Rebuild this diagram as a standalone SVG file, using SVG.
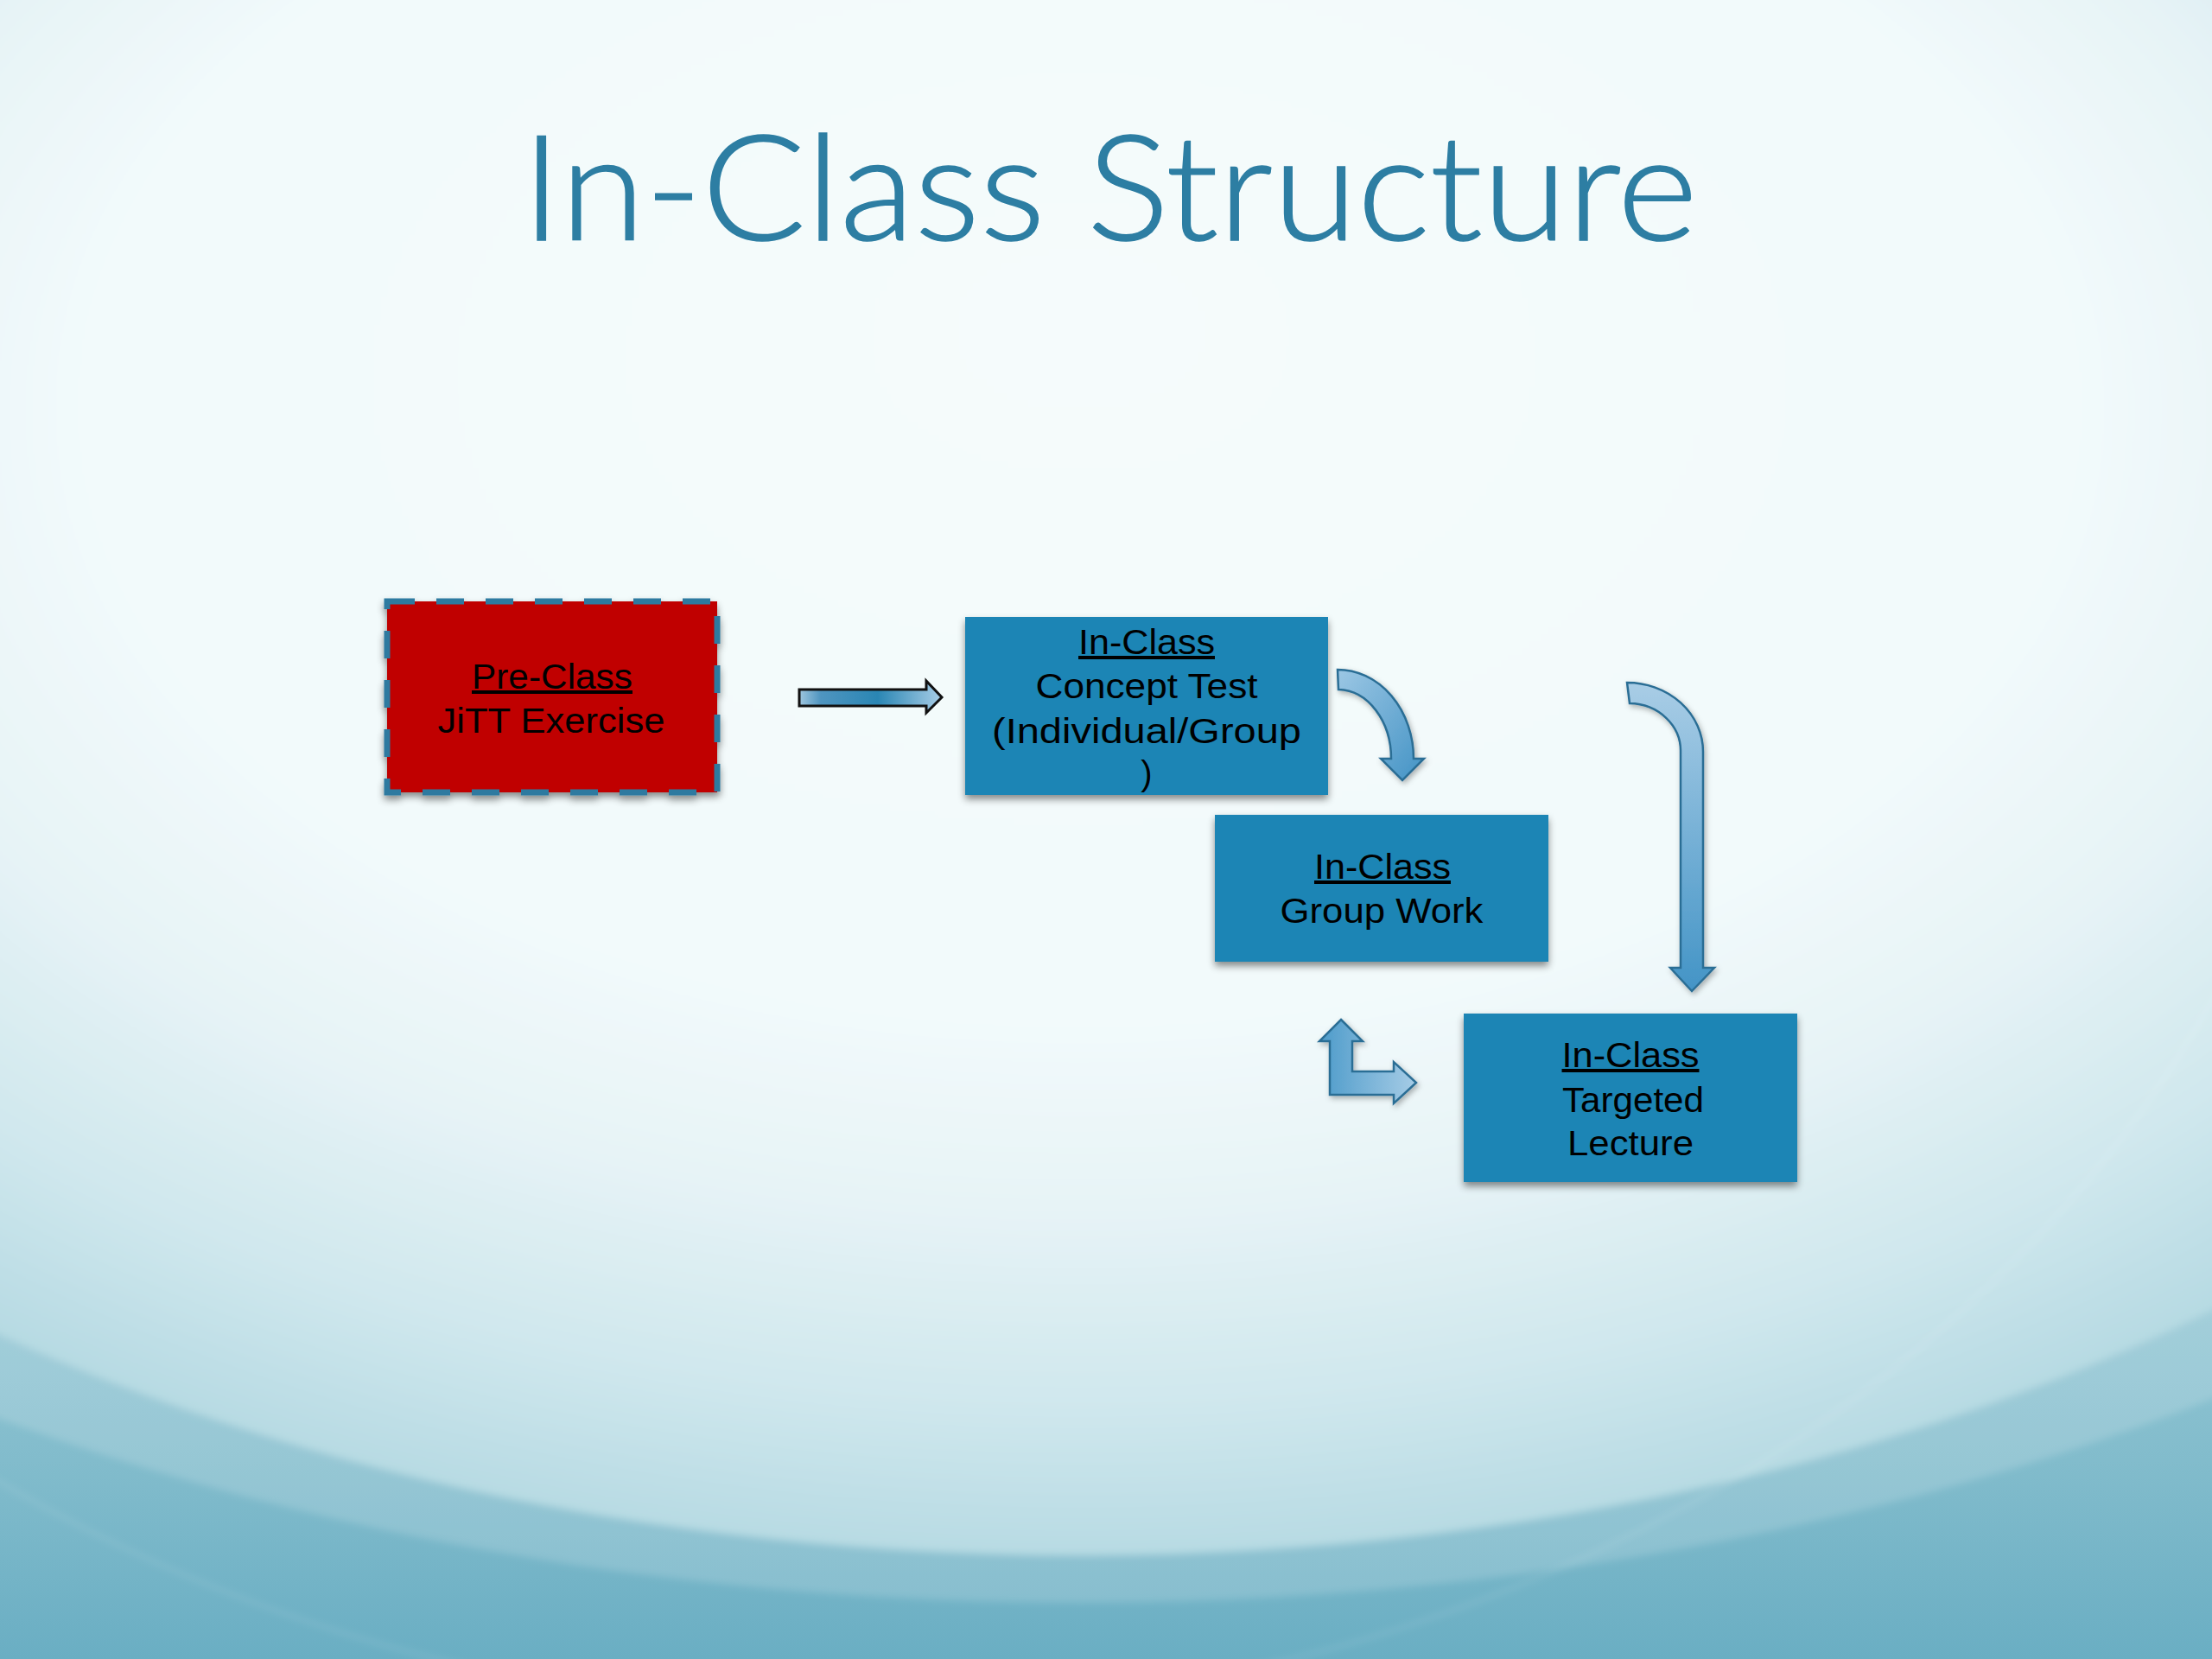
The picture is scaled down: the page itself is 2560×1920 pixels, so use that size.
<svg xmlns="http://www.w3.org/2000/svg" width="2560" height="1920" viewBox="0 0 2560 1920">
  <defs>
    <linearGradient id="bgOuter" x1="0" y1="0" x2="0" y2="1920" gradientUnits="userSpaceOnUse">
      <stop offset="0" stop-color="#e6f2f5"/>
      <stop offset="0.6" stop-color="#bcdde5"/>
      <stop offset="0.76" stop-color="#96c8d5"/>
      <stop offset="0.88" stop-color="#82bccc"/>
      <stop offset="1" stop-color="#6aaec3"/>
    </linearGradient>
    <radialGradient id="bgInner" cx="0.5" cy="0.52" r="0.5" fx="0.5" fy="0.45">
      <stop offset="0" stop-color="#f5fbfc"/>
      <stop offset="0.55" stop-color="#f2fafb"/>
      <stop offset="0.7" stop-color="#e6f3f6"/>
      <stop offset="0.85" stop-color="#cfe7ed"/>
      <stop offset="1" stop-color="#b0d7e0"/>
    </radialGradient>
    <linearGradient id="arrowFillV" x1="0" y1="0" x2="0" y2="1">
      <stop offset="0" stop-color="#a9cde6"/>
      <stop offset="1" stop-color="#4394c6"/>
    </linearGradient>
    <linearGradient id="arrowFillH" x1="0" y1="0" x2="1" y2="0">
      <stop offset="0" stop-color="#4d9bca"/>
      <stop offset="1" stop-color="#a6cce6"/>
    </linearGradient>
    <linearGradient id="arrowFillD" x1="0" y1="0" x2="1" y2="1">
      <stop offset="0" stop-color="#9cc7e4"/>
      <stop offset="1" stop-color="#4393c5"/>
    </linearGradient>
    <linearGradient id="straightFill" x1="0" y1="0" x2="1" y2="0">
      <stop offset="0" stop-color="#9fc6df"/>
      <stop offset="0.15" stop-color="#4f95c0"/>
      <stop offset="0.55" stop-color="#2a86b4"/>
      <stop offset="1" stop-color="#a8cde6"/>
    </linearGradient>
    <filter id="soft" x="-5%" y="-5%" width="110%" height="110%">
      <feGaussianBlur stdDeviation="4"/>
    </filter>
    <filter id="shadow" x="-10%" y="-10%" width="120%" height="130%">
      <feDropShadow dx="0" dy="5" stdDeviation="4" flood-color="#000000" flood-opacity="0.45"/>
    </filter>
    <filter id="ashadow" x="-20%" y="-20%" width="140%" height="140%">
      <feDropShadow dx="2" dy="3" stdDeviation="3" flood-color="#000000" flood-opacity="0.3"/>
    </filter>
  </defs>
  <style>
    .box { fill: #1e85b5; filter: url(#shadow); }
    .red { fill: #c00000; stroke: #2f7aa0; stroke-width: 7; stroke-dasharray: 32 25; filter: url(#shadow); }
    .lbl { font-family: "Liberation Sans", Arial, sans-serif; font-size: 40px; fill: #000000; text-anchor: middle; }
    .u { text-decoration: underline; }
    .title { font-family: Lato, "Liberation Sans", Arial, sans-serif; font-weight: 300; font-size: 170px; fill: #2d7ea3; stroke: #2d7ea3; stroke-width: 1.5; text-anchor: middle; }
    .barrow { stroke: #2c6e95; stroke-width: 2.5; stroke-linejoin: miter; filter: url(#ashadow); }
  </style>

  <!-- background -->
  <rect x="0" y="0" width="2560" height="1920" fill="url(#bgOuter)"/>
  <g filter="url(#soft)">
    <ellipse cx="1250" cy="400" rx="2400" ry="1455" fill="#ffffff" fill-opacity="0.16"/>
    <ellipse cx="1250" cy="500" rx="2100" ry="1300" fill="url(#bgInner)"/>
  </g>
  <ellipse cx="1000" cy="560" rx="1720" ry="1420" fill="none" stroke="#ffffff" stroke-opacity="0.12" stroke-width="4" filter="url(#soft)"/>

  <!-- title -->
  <text class="title" x="1284" y="278" textLength="1361" lengthAdjust="spacingAndGlyphs">In-Class Structure</text>

  <!-- connectors -->
  <g id="connectors">
    <path id="arrow-pre-to-concept" d="M925,798 L1072,798 L1072,788 L1090,807 L1072,825 L1072,817 L925,817 Z" fill="url(#straightFill)" stroke="#111111" stroke-width="3" stroke-linejoin="miter"/>
    <path id="arrow-concept-to-group" class="barrow" fill="url(#arrowFillD)" d="M1548,775 A88,103 0 0 1 1636,878 L1648,878 L1623,903 L1598,878 L1610,878 A62,80 0 0 0 1549,798 Z"/>
    <path id="arrow-concept-to-lecture" class="barrow" fill="url(#arrowFillV)" d="M1883,790 A88,80 0 0 1 1971,870 L1971,1120 L1984,1120 L1958,1147 L1933,1120 L1945,1120 L1945,870 A60,55 0 0 0 1886,814 Z"/>
    <path id="arrow-group-lecture" class="barrow" fill="url(#arrowFillH)" d="M1552,1180 L1577,1205 L1565,1205 L1565,1240 L1613,1240 L1613,1229 L1639,1253 L1613,1277 L1613,1267 L1539,1267 L1539,1205 L1527,1205 Z"/>
  </g>

  <!-- nodes -->
  <g id="node-preclass">
    <rect class="red" x="448" y="696" width="382" height="221"/>
    <text class="lbl" x="639" y="797"><tspan class="u" textLength="186" lengthAdjust="spacingAndGlyphs">Pre-Class</tspan></text>
    <text class="lbl" x="638" y="848" textLength="263" lengthAdjust="spacingAndGlyphs">JiTT Exercise</text>
  </g>

  <g id="node-concept-test">
    <rect class="box" x="1117" y="714" width="420" height="206"/>
    <text class="lbl" x="1327" y="757"><tspan class="u" textLength="158" lengthAdjust="spacingAndGlyphs">In-Class</tspan></text>
    <text class="lbl" x="1327" y="808" textLength="257" lengthAdjust="spacingAndGlyphs">Concept Test</text>
    <text class="lbl" x="1327" y="860" textLength="358" lengthAdjust="spacingAndGlyphs">(Individual/Group</text>
    <text class="lbl" x="1327" y="909">)</text>
  </g>

  <g id="node-group-work">
    <rect class="box" x="1406" y="943" width="386" height="170"/>
    <text class="lbl" x="1600" y="1017"><tspan class="u" textLength="158" lengthAdjust="spacingAndGlyphs">In-Class</tspan></text>
    <text class="lbl" x="1599" y="1068" textLength="235" lengthAdjust="spacingAndGlyphs">Group Work</text>
  </g>

  <g id="node-targeted-lecture">
    <rect class="box" x="1694" y="1173" width="386" height="195"/>
    <text class="lbl" x="1887" y="1235"><tspan class="u" textLength="159" lengthAdjust="spacingAndGlyphs">In-Class</tspan></text>
    <text class="lbl" x="1890" y="1287" textLength="164" lengthAdjust="spacingAndGlyphs">Targeted</text>
    <text class="lbl" x="1887" y="1337" textLength="146" lengthAdjust="spacingAndGlyphs">Lecture</text>
  </g>
</svg>
